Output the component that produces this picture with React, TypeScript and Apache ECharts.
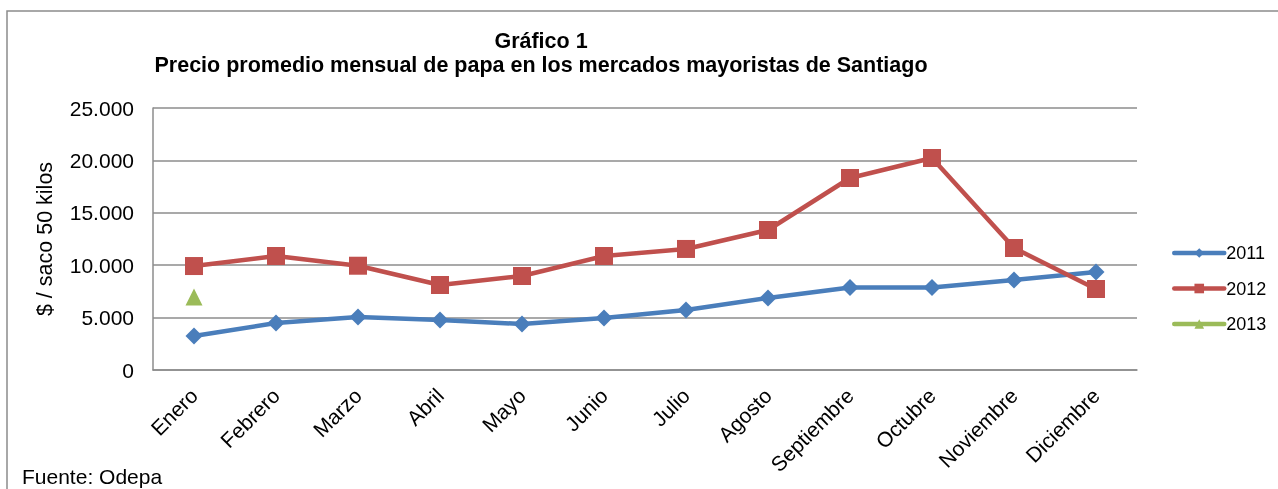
import React, { useEffect, useRef } from "react";
import * as echarts from "echarts";

const months = ["Enero", "Febrero", "Marzo", "Abril", "Mayo", "Junio", "Julio", "Agosto", "Septiembre", "Octubre", "Noviembre", "Diciembre"];
const s2011 = [3250, 4480, 5060, 4770, 4390, 4960, 5730, 6870, 7870, 7870, 8590, 9350];
const s2012 = [9920, 10880, 9950, 8110, 8970, 10880, 11550, 13360, 18320, 20230, 11640, 7730];
const s2013 = [6970, null, null, null, null, null, null, null, null, null, null, null];
const yTicks = { min: 0, max: 25000, interval: 5000 };

const FONT = "'Liberation Sans', Arial, sans-serif";

export default function App() {
  const ref = useRef<HTMLDivElement>(null);
  useEffect(() => {
    document.body.style.margin = "0";
    const chart = echarts.init(ref.current!, null, { renderer: "svg" });
    const fmt = (v: number) => String(v).replace(/\B(?=(\d{3})+(?!\d))/g, ".");
    chart.setOption({
      animation: false,
      textStyle: { fontFamily: FONT },
      title: {
        text: "Gráfico 1\nPrecio promedio mensual de papa en los mercados mayoristas de Santiago",
        left: 541,
        top: 29,
        padding: 0,
        textAlign: "center",
        textStyle: { fontFamily: FONT, fontSize: 21.5, fontWeight: "bold", color: "#000", lineHeight: 24 },
      },
      graphic: [
        { type: "rect", shape: { x: 7, y: 11, width: 1400, height: 600 }, style: { fill: "none", stroke: "#8c8c8c", lineWidth: 1.5 }, silent: true },
        { type: "text", left: 22, top: 466, style: { text: "Fuente: Odepa", font: `21px ${FONT}`, fill: "#000" } },
      ],
      legend: {
        orient: "vertical",
        left: 1172,
        top: 244,
        padding: 0,
        itemWidth: 50,
        itemHeight: 12,
        itemGap: 17.5,
        lineStyle: { width: 4.5, cap: "round" },
        textStyle: { fontFamily: FONT, fontSize: 18, color: "#000", padding: [0, 0, 0, -3] },
        data: ["2011", "2012", "2013"],
      },
      grid: { left: 153, top: 108, right: 141, bottom: 119 },
      xAxis: {
        type: "category",
        data: months,
        boundaryGap: true,
        axisLine: { lineStyle: { color: "#8c8c8c", width: 1.5 } },
        axisTick: { show: false },
        axisLabel: { rotate: 45, fontSize: 21, color: "#000", fontFamily: FONT, margin: 22, interval: 0 },
      },
      yAxis: {
        type: "value",
        min: yTicks.min,
        max: yTicks.max,
        interval: yTicks.interval,
        name: "$ / saco 50 kilos",
        nameLocation: "middle",
        nameGap: 97,
        nameTextStyle: { fontSize: 21.5, color: "#000", fontFamily: FONT },
        axisLine: { show: true, lineStyle: { color: "#8c8c8c", width: 1.5 } },
        axisTick: { show: false },
        splitLine: { lineStyle: { color: "#8c8c8c", width: 1.5 } },
        axisLabel: { fontSize: 21, color: "#000", fontFamily: FONT, margin: 19, formatter: fmt },
      },
      series: [
        {
          name: "2011", type: "line", data: s2011, symbol: "diamond", symbolSize: 17,
          lineStyle: { color: "#4a7ebb", width: 4.5 }, itemStyle: { color: "#4a7ebb" },
        },
        {
          name: "2012", type: "line", data: s2012, symbol: "rect", symbolSize: 18,
          lineStyle: { color: "#c0504d", width: 4.5 }, itemStyle: { color: "#c0504d" },
        },
        {
          name: "2013", type: "line", data: s2013, symbol: "triangle", symbolSize: 17, showSymbol: true,
          lineStyle: { color: "#9bbb59", width: 4.5 }, itemStyle: { color: "#9bbb59" },
        },
      ],
    });
    return () => chart.dispose();
  }, []);
  return <div ref={ref} style={{ position: "fixed", left: 0, top: 0, width: 1278, height: 489 }} />;
}
